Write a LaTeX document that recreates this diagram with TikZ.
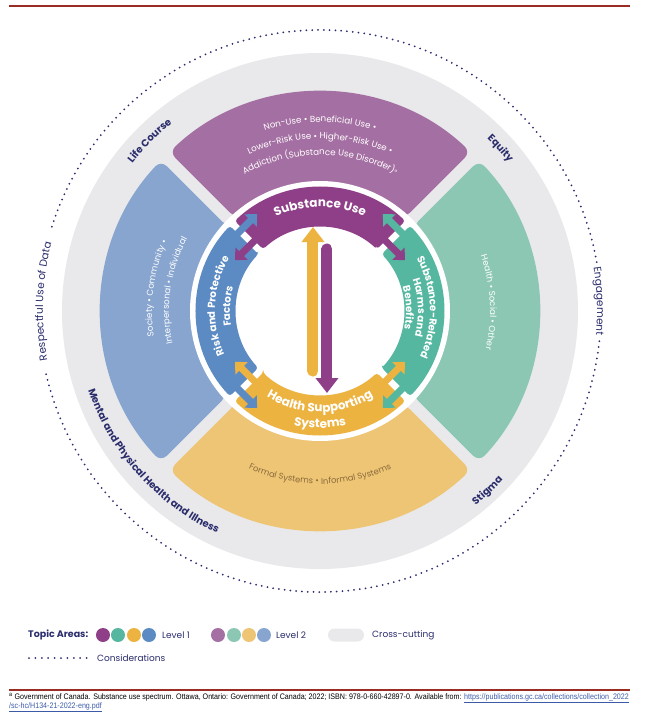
\documentclass[tikz,border=0pt]{standalone}
\usepackage{fontspec}
\setmainfont{Poppins}
\newfontfamily\notafont[FakeStretch=0.89]{Liberation Sans}
\newfontfamily\supfont{DejaVu Sans}
\usepackage{tikz}
\usetikzlibrary{arrows.meta,positioning,calc,decorations.text}
\usepackage{xcolor}
\definecolor{colsubst}{HTML}{8E3F88}
\definecolor{colrisk}{HTML}{5C8BC3}
\definecolor{colharm}{HTML}{55B7A0}
\definecolor{colhealth}{HTML}{EDB341}
\definecolor{colsubstii}{HTML}{A46FA2}
\definecolor{colriskii}{HTML}{87A5CF}
\definecolor{colharmii}{HTML}{8CC7B4}
\definecolor{colhealthii}{HTML}{EEC574}
\definecolor{colcross}{HTML}{E9E9EB}
\definecolor{colnavy}{HTML}{2B2D6C}
\definecolor{colrule}{HTML}{9B2C24}
\definecolor{colbrown}{HTML}{8A6A3C}
\definecolor{colurl}{HTML}{3B5BA9}
\newcommand{\fuenteuno}{\fontsize{10.2}{10.2}\selectfont\bfseries\color{white}}
\newcommand{\fuentegrande}{\fontsize{12}{12}\selectfont\bfseries\color{white}}
\newcommand{\fuentedos}{\fontsize{8.7}{8.7}\selectfont\color{white}}
\newcommand{\fuentemarron}{\fontsize{8.4}{8.4}\selectfont\color{colbrown}}
\newcommand{\fuenteanillo}{\fontsize{10}{10}\selectfont\bfseries\color{colnavy}}
\newcommand{\fuentepunto}{\fontsize{10.5}{10.5}\selectfont\color{colnavy}}
% gajo: color, angulo central, radio interior, radio exterior, medio hueco, redondeo
\newcommand{\gajo}[6]{%
  \fill[#1,rounded corners=#6]
    ({#2-45+asin(#5/#3)}:#3) -- ({#2-45+asin(#5/#4)}:#4)
    arc[start angle={#2-45+asin(#5/#4)}, end angle={#2+45-asin(#5/#4)}, radius=#4]
    -- ({#2+45-asin(#5/#3)}:#3)
    arc[start angle={#2+45-asin(#5/#3)}, end angle={#2-45+asin(#5/#3)}, radius=#3]
    -- cycle;}
% curva: formato, texto, radio, angulo inicial, angulo final
\newcommand{\curva}[5]{%
  \path[decorate,decoration={text along path,text align=center,text={|#1|#2}}]
    (#4:#3) arc[start angle=#4, end angle=#5, radius=#3];}
% cruce: color, angulo del cruce, radio, sentido (+1 antihorario, -1 horario)
\newcommand{\cruce}[4]{%
  \draw[#1,flecha] ($(#2:#3)+({#2-#4*90}:12)$) -- ($(#2:#3)+({#2+#4*90}:24)$);}

\begin{document}
\begin{tikzpicture}[
  x=1pt, y=1pt,
  flecha/.style={line width=7pt,-{Triangle[length=9pt,width=17pt]}},
  eje/.style={line width=11pt,line cap=round,-{Triangle[length=15pt,width=22pt]}},
  puntos/.style={colnavy,line width=2pt,line cap=round,dash pattern=on 0pt off 5.8pt},
  regla/.style={colrule,line width=1.6pt},
  bola/.style={circle,inner sep=0pt,minimum width=12.5pt,minimum height=14pt},
  leyenda/.style={font=\fontsize{9}{9}\selectfont,text=colnavy,anchor=west,inner sep=0pt},
  nota/.style={font=\notafont\fontsize{8}{8}\selectfont,anchor=west,inner sep=0pt},
]
  \useasboundingbox (-320,-402) rectangle (327,311);

  \draw[regla] (-311,305) -- (310,305);

  % anillo transversal y los cuatro gajos de nivel 2
  \fill[colcross] (0,0) circle (258);
  \gajo{colsubstii}{90}{125}{219}{6}{8pt}
  \gajo{colharmii}{0}{125}{219}{6}{8pt}
  \gajo{colhealthii}{270}{125}{219}{6}{8pt}
  \gajo{colriskii}{180}{125}{219}{6}{8pt}
  \fill[white] (0,0) circle (130);

  % nivel 1
  \gajo{colsubst}{90}{84}{124}{3.5}{3pt}
  \gajo{colharm}{0}{84}{124}{3.5}{3pt}
  \gajo{colhealth}{270}{84}{124}{3.5}{3pt}
  \gajo{colrisk}{180}{84}{124}{3.5}{3pt}

  % flechas dobles en los cruces: morado y naranja por dentro
  \cruce{colsubst}{45}{96}{-1}
  \cruce{colharm}{45}{113}{1}
  \cruce{colsubst}{135}{96}{1}
  \cruce{colrisk}{135}{113}{-1}
  \cruce{colhealth}{225}{96}{-1}
  \cruce{colrisk}{225}{113}{1}
  \cruce{colhealth}{315}{96}{1}
  \cruce{colharm}{315}{113}{-1}

  \coordinate (sisbase) at (-7,-60);
  \coordinate (sistope) at (-7,84);
  \coordinate (sustope) at (7,62);
  \coordinate (susbase) at (7,-82);
  \draw[eje,colhealth] (sisbase) -- (sistope);
  \draw[eje,colsubst] (sustope) -- (susbase);

  % rotulos de nivel 1
  \curva{\fuentegrande}{Substance Use}{104}{150}{30}
  \curva{\fuenteuno}{Risk and Protective}{105}{245}{109}
  \curva{\fuenteuno}{Factors}{90}{245}{109}
  \curva{\fuenteuno}{Substance-Related}{110}{68}{-64}
  \curva{\fuenteuno}{Harms and}{98}{68}{-64}
  \curva{\fuenteuno}{Benefits}{86}{68}{-64}
  \curva{\fuentegrande}{Health Supporting}{101}{200}{340}
  \curva{\fuentegrande}{Systems}{117}{200}{340}

  % rotulos de nivel 2
  \curva{\fuentedos}{Non-Use • Beneficial Use •}{189}{150}{30}
  \curva{\fuentedos}{Lower-Risk Use • Higher-Risk Use •}{172}{150}{30}
  \curva{\fuentedos}{Addiction (Substance Use Disorder)|\supfont\fontsize{7}{7}\selectfont\color{white}|ᵃ}{156}{150}{30}
  \curva{\fuentedos}{Society • Community •}{168}{240}{104}
  \curva{\fuentedos}{Interpersonal • Individual}{151}{240}{104}
  \curva{\fuentedos}{Health • Social • Other}{170}{70}{-64}
  \curva{\fuentemarron}{Formal Systems • Informal Systems}{173}{210}{330}

  % temas transversales
  \curva{\fuenteanillo}{Life Course}{239}{165}{105}
  \curva{\fuenteanillo}{Equity}{240}{72}{12}
  \curva{\fuenteanillo}{Mental and Physical Health and Illness}{245}{162}{282}
  \curva{\fuenteanillo}{Stigma}{249}{283}{343}

  % consideraciones: circulo punteado cortado donde van los rotulos
  \draw[puntos] (10:281) arc[start angle=10, end angle=163, radius=281];
  \draw[puntos] (193:281) arc[start angle=193, end angle=354, radius=281];
  \curva{\fuentepunto}{Respectful Use of Data}{277}{228}{128}
  \curva{\fuentepunto}{Engagement}{277}{50}{-46}

  % leyenda
  \node[font=\fontsize{9.5}{9.5}\selectfont\bfseries,text=colnavy,anchor=west,inner sep=0pt]
        (topicos) at (-292,-324) {Topic Areas:};
  \node[bola,fill=colsubst] (ua) at (-217,-324) {};
  \node[bola,fill=colharm] (ub) at (-202,-324) {};
  \node[bola,fill=colhealth] (uc) at (-186,-324) {};
  \node[bola,fill=colrisk] (ud) at (-171,-324) {};
  \node[leyenda] (nivuno) at (-158,-324) {Level 1};
  \node[bola,fill=colsubstii] (da) at (-102,-324) {};
  \node[bola,fill=colharmii] (db) at (-86,-324) {};
  \node[bola,fill=colhealthii] (dc) at (-71,-324) {};
  \node[bola,fill=colriskii] (dd) at (-56,-324) {};
  \node[leyenda] (nivdos) at (-44,-324) {Level 2};
  \node[fill=colcross,rounded corners=6.5pt,minimum width=36pt,minimum height=13pt,inner sep=0pt]
        (pastilla) at (26,-324) {};
  \node[leyenda] (transv) at (52,-324) {Cross-cutting};
  \coordinate (puntoini) at (-291,-347);
  \coordinate (puntofin) at (-233,-347);
  \draw[puntos,dash pattern=on 0pt off 6.4pt] (puntoini) -- (puntofin);
  \node[leyenda] (consid) at (-223,-347) {Considerations};

  % nota al pie
  \draw[regla] (-311,-379) -- (310,-379);
  \node[nota] (notauno) at (-311,-387)
        {\textsuperscript{a} Government of Canada. Substance use spectrum. Ottawa, Ontario: Government of Canada; 2022; ISBN: 978-0-660-42897-0. Available from: \textcolor{colurl}{\underline{https://publications.gc.ca/collections/collection\_2022}}};
  \node[nota] (notados) at (-311,-396)
        {\textcolor{colurl}{\underline{/sc-hc/H134-21-2022-eng.pdf}}};
\end{tikzpicture}
\end{document}
